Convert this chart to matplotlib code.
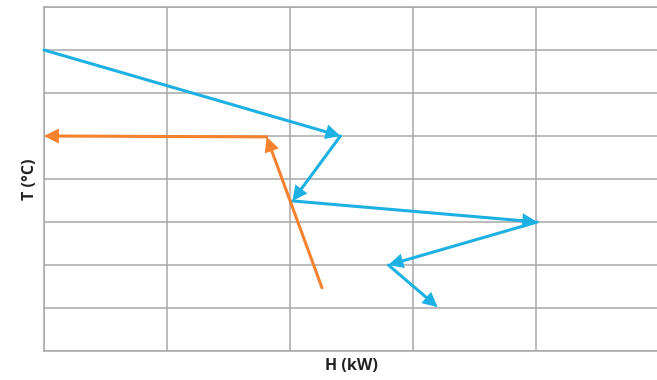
import matplotlib.pyplot as plt

# composite curve points (H, T) in grid units
hot_h = [0.0, 2.41, 2.02, 4.01, 2.80, 3.20]
hot_t = [7.0, 5.0, 3.49, 3.0, 2.0, 1.02]
cold_h = [2.26, 1.81, 0.0]
cold_t = [1.47, 4.98, 5.0]

blue = '#1cb0e3'
orange = '#f5822f'
grid_col = '#a8a8a8'

plt.rcParams['font.family'] = ['Open Sans', 'DejaVu Sans']

fig = plt.figure(figsize=(6.57, 3.80), dpi=100)
W, H = 657, 380
ax = fig.add_axes([44 / W, (H - 351) / H, 1 - 44 / W + 2 / W, (351 - 7) / H])
ax.set_xlim(0, 5)
ax.set_ylim(0, 8)
ax.set_xticks(range(6))
ax.set_yticks(range(9))
ax.tick_params(length=0, labelbottom=False, labelleft=False)
ax.grid(True, color=grid_col, lw=1.1)
for side in ['left', 'bottom', 'top']:
    ax.spines[side].set_color(grid_col)
    ax.spines[side].set_linewidth(1.1)
ax.spines['right'].set_visible(False)


def draw_arrows(xs, ys, color):
    for i in range(len(xs) - 1):
        ax.annotate('', xy=(xs[i + 1], ys[i + 1]), xytext=(xs[i], ys[i]),
                    arrowprops=dict(arrowstyle='-|>', color=color, lw=2.2,
                                    mutation_scale=18, shrinkA=0, shrinkB=0,
                                    joinstyle='miter'),
                    annotation_clip=False)


draw_arrows(hot_h, hot_t, blue)
draw_arrows(cold_h, cold_t, orange)

ax.set_xlabel('H (kW)', fontsize=11.5, fontweight='bold', color='#222222',
              labelpad=5)
ax.set_ylabel('T (°C)', fontsize=11.5, fontweight='bold', color='#222222',
              labelpad=4)

fig.savefig('out.png', dpi=100)
